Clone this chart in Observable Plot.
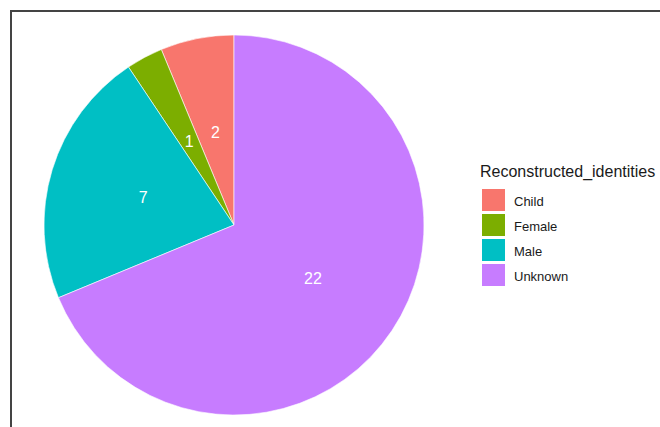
<!DOCTYPE html>
<html>
<head>
<meta charset="utf-8">
<script src="https://cdn.jsdelivr.net/npm/d3@7"></script>
<script src="https://cdn.jsdelivr.net/npm/@observablehq/plot@0.6"></script>
<style>
  html, body { margin: 0; padding: 0; background: #fff; }
  #wrap { position: relative; width: 660px; height: 427px; overflow: hidden; font-family: "Liberation Sans", Arial, sans-serif; }
  #frame { position: absolute; left: 10px; top: 10px; width: 700px; height: 500px; border-top: 2px solid #444; border-left: 2px solid #444; box-sizing: border-box; pointer-events: none; }
  .lg-title { position: absolute; left: 480px; top: 164px; font-size: 16px; line-height: 16px; color: #1a1a1a; white-space: nowrap; }
  .lg-key { position: absolute; left: 482px; width: 23px; height: 22px; }
  .lg-label { position: absolute; left: 514px; font-size: 13px; line-height: 13px; color: #1a1a1a; white-space: nowrap; }
  #dbg { position: absolute; left: 20px; top: 20px; font-size: 10px; color: red; }
</style>
</head>
<body>
<div id="wrap"><div id="dbg"></div></div>
<script>
const categories = ["Child", "Female", "Male", "Unknown"];
const counts = [2, 1, 7, 22];
const palette = ["#F8766D", "#7CAE00", "#00BFC4", "#C77CFF"];
const legendTitle = "Reconstructed_identities";

const data = categories.map((c, i) => ({identity: c, count: counts[i]}));
const dbg = document.getElementById("dbg");

const W = 660, H = 427, ML = 44, MR = 236, MT = 35, MB = 12;

function pieMark(index, scales, values, dimensions) {
  try {
    const dim = dimensions || {width: W, height: H, marginLeft: ML, marginRight: MR, marginTop: MT, marginBottom: MB};
    const w = dim.width - dim.marginLeft - dim.marginRight;
    const h = dim.height - dim.marginTop - dim.marginBottom;
    const cx = dim.marginLeft + w / 2;
    const cy = dim.marginTop + h / 2;
    const r = Math.min(w, h) / 2;
    const color = scales && scales.color ? scales.color : null;
    const arcs = d3.pie().value(d => d.count).sort(null)
      .startAngle(0).endAngle(-2 * Math.PI)(data);
    const arc = d3.arc().innerRadius(0).outerRadius(r);
    const g = d3.create("svg:g").attr("transform", `translate(${cx},${cy})`);
    arcs.forEach((a, j) => {
      g.append("path").attr("d", arc(a))
        .attr("fill", color ? color(a.data.identity) : palette[j])
        .attr("stroke", "#ffffff").attr("stroke-width", 0.6);
    });
    arcs.forEach((a) => {
      const [x, y] = arc.centroid(a);
      g.append("text").attr("x", x).attr("y", y).attr("dy", "0.36em")
        .attr("text-anchor", "middle").attr("fill", "#ffffff")
        .attr("font-size", 16).attr("font-family", "'Liberation Sans', Arial, sans-serif")
        .text(a.data.count);
    });
    if (!color) dbg.textContent += " nocolor";
    return g.node();
  } catch (e) {
    dbg.textContent += " ERR " + e.message;
    return null;
  }
}

let chart;
try {
  chart = Plot.plot({
    width: W,
    height: H,
    marginLeft: ML,
    marginRight: MR,
    marginTop: MT,
    marginBottom: MB,
    x: {axis: null},
    y: {axis: null},
    color: {domain: categories, range: palette},
    marks: [
      Plot.dot(data, {fill: "identity", r: 0}),
      pieMark
    ]
  });
} catch (e) {
  dbg.textContent += " PLOTERR " + e.message;
}

const wrap = document.getElementById("wrap");
chart.style.position = "absolute";
chart.style.left = "0px";
chart.style.top = "0px";
wrap.appendChild(chart);

const frame = document.createElement("div");
frame.id = "frame";
wrap.appendChild(frame);

const colorScale = chart.scale("color");
const t = document.createElement("div");
t.className = "lg-title";
t.textContent = legendTitle;
wrap.appendChild(t);
categories.forEach((c, i) => {
  const k = document.createElement("div");
  k.className = "lg-key";
  k.style.top = (189 + 25 * i) + "px";
  k.style.background = colorScale.apply(c);
  wrap.appendChild(k);
  const l = document.createElement("div");
  l.className = "lg-label";
  l.style.top = (194.7 + 25 * i) + "px";
  l.textContent = c;
  wrap.appendChild(l);
});
</script>
</body>
</html>
